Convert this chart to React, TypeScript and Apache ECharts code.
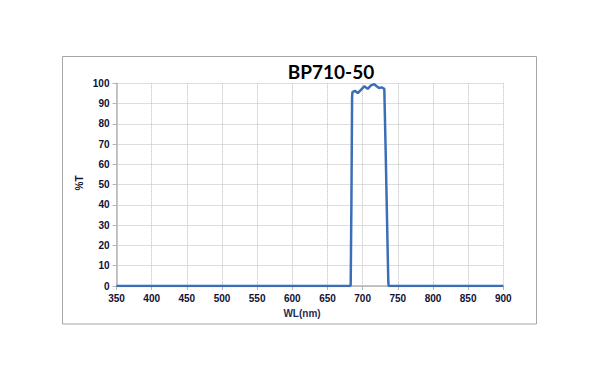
import React, { useEffect, useRef } from "react";
import * as echarts from "echarts";

const wavelengths = [350, 680, 682, 683, 684, 685, 685.5, 689, 693, 697.6, 702.3, 707.2, 711.9, 716.6, 720, 723.2, 727.1, 730.8, 733, 735, 736.5, 737, 900];
const transmission = [0, 0, 0, 0.5, 40, 93, 95.7, 96.3, 95.2, 96.8, 98.5, 97.3, 99, 99.6, 98.5, 97.7, 98, 97.3, 62, 27, 2, 0, 0];
const xTicks = { min: 350, max: 900, step: 50 };
const yTicks = { min: 0, max: 100, step: 10 };
const title = "BP710-50";
const xName = "WL(nm)";
const yName = "%T";

export default function App() {
  const ref = useRef<HTMLDivElement>(null);
  useEffect(() => {
    if (!ref.current) return;
    const chart = echarts.init(ref.current, null, { renderer: "svg" });
    const data = wavelengths.map((w, i) => [w, transmission[i]]);
    const labelStyle = {
      fontFamily: "Liberation Sans",
      fontWeight: "bold" as const,
      fontSize: 10,
      color: "#111133",
    };
    chart.setOption({
      animation: false,
      backgroundColor: "#ffffff",
      grid: { left: 116.5, right: 96.7, top: 83.3, bottom: 97, containLabel: false },
      xAxis: {
        type: "value",
        min: xTicks.min,
        max: xTicks.max,
        interval: xTicks.step,
        axisLine: { show: true, onZero: false, lineStyle: { color: "#b4b4b4", width: 1.5 } },
        axisTick: { show: true, length: 4, lineStyle: { color: "#b4b4b4", width: 1 } },
        axisLabel: { ...labelStyle, margin: 7 },
        splitLine: { show: true, lineStyle: { color: "#bcbcbc", type: [1, 1], width: 1 } },
      },
      yAxis: {
        type: "value",
        min: yTicks.min,
        max: yTicks.max,
        interval: yTicks.step,
        axisLine: { show: true, lineStyle: { color: "#b4b4b4", width: 1.5 } },
        axisTick: { show: true, length: 4, lineStyle: { color: "#b4b4b4", width: 1 } },
        axisLabel: { ...labelStyle, margin: 7 },
        splitLine: { show: true, lineStyle: { color: "#bcbcbc", type: [1, 1], width: 1 } },
      },
      graphic: [
        {
          type: "rect",
          shape: { x: 62.5, y: 56.5, width: 474, height: 267.5 },
          style: { fill: "none", stroke: "#a6a6a6", lineWidth: 1 },
          z: -1,
        },
        {
          type: "text",
          x: 331,
          y: 71,
          style: {
            text: title,
            fontFamily: "Lato",
            fontWeight: "bold",
            fontSize: 19,
            fill: "#000000",
            align: "center",
            verticalAlign: "middle",
          },
        },
        {
          type: "text",
          x: 302,
          y: 313,
          style: {
            text: xName,
            fontFamily: "Liberation Sans",
            fontWeight: "bold",
            fontSize: 10,
            fill: "#1f2d5a",
            align: "center",
            verticalAlign: "middle",
          },
        },
        {
          type: "text",
          x: 79,
          y: 183,
          rotation: Math.PI / 2,
          style: {
            text: yName,
            fontFamily: "Liberation Sans",
            fontWeight: "bold",
            fontSize: 10,
            fill: "#111133",
            align: "center",
            verticalAlign: "middle",
          },
        },
      ],
      series: [
        {
          type: "line",
          data,
          showSymbol: false,
          smooth: false,
          lineStyle: { color: "#3b6eb6", width: 2.5 },
          z: 5,
        },
      ],
    });
    return () => chart.dispose();
  }, []);
  return (
    <div
      ref={ref}
      style={{ position: "fixed", left: 0, top: 0, width: 600, height: 383, background: "#fff" }}
    />
  );
}
